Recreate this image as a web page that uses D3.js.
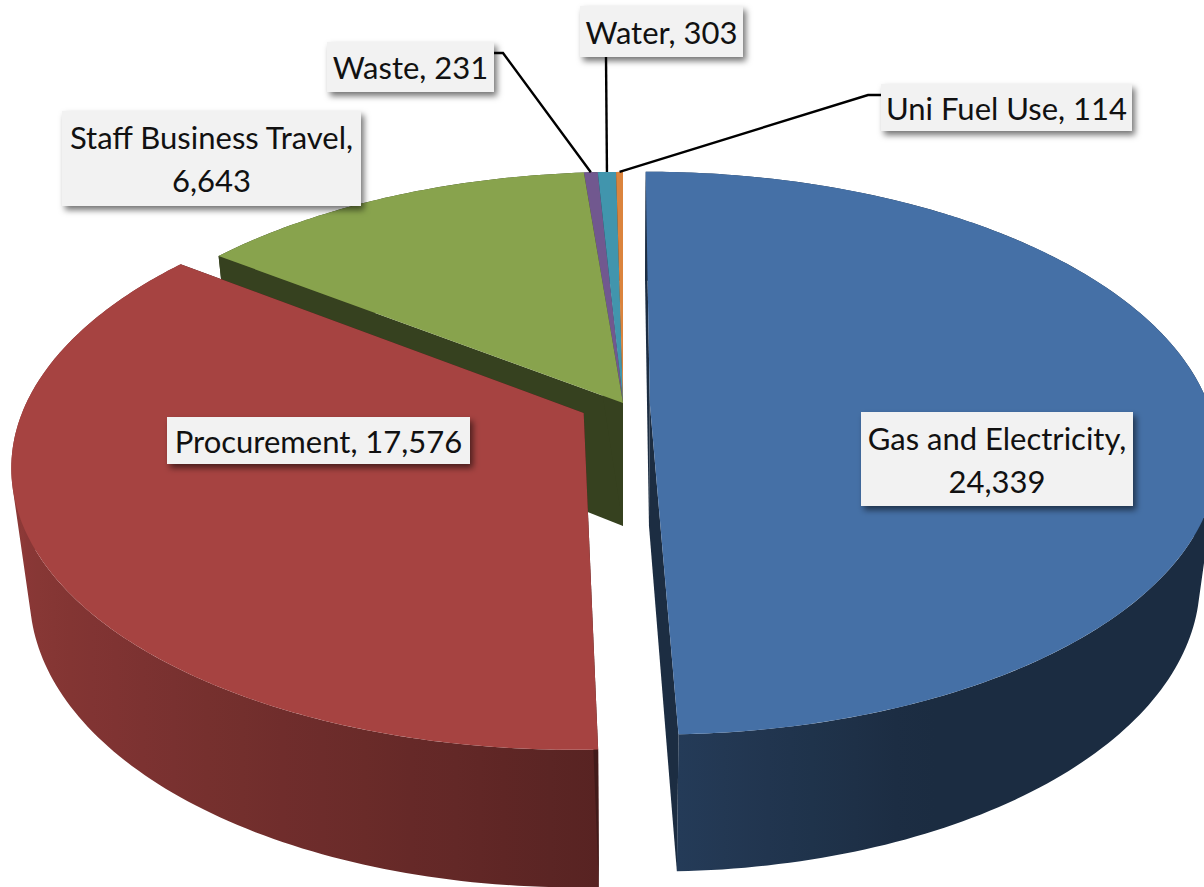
<!DOCTYPE html>
<html>
<head>
<meta charset="utf-8">
<title>Carbon footprint pie</title>
<style>
  html, body { margin: 0; padding: 0; background: #fff; }
  svg { display: block; }
  text { font-family: Lato, "Open Sans", sans-serif; font-size: 31px; fill: #111; }
</style>
</head>
<body>
<svg width="1204" height="887"></svg>
<script src="https://d3js.org/d3.v7.min.js"></script>
<script>
// chart data
const categories = ["Gas and Electricity", "Procurement", "Staff Business Travel", "Waste", "Water", "Uni Fuel Use"];
const values = [24339, 17576, 6643, 231, 303, 114];
const colors = ["#4570a6", "#a64341", "#88a34d", "#71588f", "#4195ad", "#db843d"];

// how far each slice is pulled out of the pie (share of radius)
const explode = [0.048, 0.079, 0, 0, 0, 0];
// label boxes: x, y, w, h, and whether the value goes on a second line
const labelBoxes = [
  { x: 861, y: 412, w: 272, h: 94, wrap: true },
  { x: 167, y: 417, w: 303, h: 47, wrap: false },
  { x: 62, y: 111, w: 299, h: 95, wrap: true },
  { x: 327, y: 42, w: 167, h: 50, wrap: false },
  { x: 580, y: 6, w: 163, h: 51, wrap: false },
  { x: 881, y: 84, w: 251, h: 47, wrap: false }
];
// bend of each leader line, null when there is none
const leaders = [null, null, null,
  { from: [494, 53], bend: [503, 53] },
  { from: [606, 57], bend: null },
  { from: [881, 95], bend: [868, 95] }
];

// perspective of the pie
const cx = 623, cy = 403;
const radiusX = 558, radiusY = 272.5, persp = 0.179;
const depth = 123, depthGrow = 0.114, bottomScale = 0.97;

const svg = d3.select("svg");
const defs = svg.append("defs");

const fmt = d3.format(",");
const slices = d3.pie().sort(null)(values);
const line = d3.line();

// lighting of the side walls, by left-right position round the pie
const shade = d3.scaleLinear().domain([-1, 0, 0.4, 1]).range([0.85, 0.54, 0.39, 0.39]);
const faceShade = 0.4;

function darker(c, k) {
  const r = d3.rgb(c);
  return d3.rgb(r.r * k, r.g * k, r.b * k).formatHex();
}

// angle (radians, clockwise from top), r 0..1, slice index, on the bottom plane or not
function project(angle, r, i, bottom) {
  const mid = (slices[i].startAngle + slices[i].endAngle) / 2;
  const gx = r * Math.sin(angle) + explode[i] * Math.sin(mid);
  const gy = -r * Math.cos(angle) - explode[i] * Math.cos(mid);
  const w = 1 - persp * gy;
  let x = cx + radiusX * gx / w;
  let y = cy + radiusY * gy / w;
  if (bottom) {
    x = cx + (x - cx) * bottomScale;
    y = y + depth * (1 + depthGrow * gy);
  }
  return [x, y];
}

function arcAngles(a0, a1, stepDeg) {
  const n = Math.max(1, Math.ceil((a1 - a0) / (stepDeg * Math.PI / 180)));
  return d3.range(n + 1).map(k => a0 + (a1 - a0) * k / n);
}

// horizontal gradient for the part of the wall facing the viewer
function wallFill(i) {
  const s = slices[i];
  const a0 = Math.max(s.startAngle, Math.PI / 2), a1 = Math.min(s.endAngle, Math.PI * 1.5);
  if (a1 <= a0) return darker(colors[i], faceShade);
  const angles = arcAngles(a0, a1, 4);
  const xs = angles.map(a => project(a, 1, i)[0]);
  const [x0, x1] = d3.extent(xs);
  const offset = d3.scaleLinear().domain([x0, x1]).range([0, 1]);
  const stops = angles.map((a, k) => ({ o: offset(xs[k]), c: darker(colors[i], shade(Math.sin(a))) }))
    .sort((p, q) => p.o - q.o);
  const grad = defs.append("linearGradient")
    .attr("id", "wall" + i)
    .attr("gradientUnits", "userSpaceOnUse")
    .attr("x1", x0).attr("x2", x1).attr("y1", 0).attr("y2", 0);
  grad.selectAll("stop").data(stops).join("stop")
    .attr("offset", d => d.o)
    .attr("stop-color", d => d.c);
  return "url(#wall" + i + ")";
}

function drawSides(i) {
  const s = slices[i];
  // wall as quads all wound the same way, otherwise the fill cancels at the silhouette
  const rim = arcAngles(s.startAngle, s.endAngle, 1);
  const quads = d3.pairs(rim).map(([a, b]) => {
    const q = [project(a, 1, i), project(b, 1, i), project(b, 1, i, true), project(a, 1, i, true)];
    if (d3.polygonArea(q) < 0) q.reverse();
    return line(q) + "Z";
  });
  pie.append("path")
    .attr("d", quads.join(""))
    .attr("fill", wallFill(i));
  // the two cut faces
  [s.startAngle, s.endAngle].forEach(a => {
    pie.append("path")
      .attr("d", line([project(0, 0, i), project(a, 1, i), project(a, 1, i, true), project(0, 0, i, true)]) + "Z")
      .attr("fill", darker(colors[i], faceShade));
  });
}

function drawTop(i) {
  const s = slices[i];
  const rim = arcAngles(s.startAngle, s.endAngle, 0.5).map(a => project(a, 1, i));
  pie.append("path")
    .attr("d", line([project(0, 0, i)].concat(rim)) + "Z")
    .attr("fill", colors[i]);
}

const pie = svg.append("g");
// slices that stay together are painted as one group, pulled out ones come after
[[3, 4, 5, 2], [1], [0]].forEach(group => {
  group.forEach(drawSides);
  group.forEach(drawTop);
});

// label shadow
const filter = defs.append("filter")
  .attr("id", "boxShadow")
  .attr("x", "-10%").attr("y", "-20%").attr("width", "125%").attr("height", "150%");
filter.append("feDropShadow")
  .attr("dx", 3).attr("dy", 4).attr("stdDeviation", 3)
  .attr("flood-color", "#000").attr("flood-opacity", 0.55);

// leader lines
leaders.forEach((l, i) => {
  if (!l) return;
  const mid = (slices[i].startAngle + slices[i].endAngle) / 2;
  const pts = [l.from];
  if (l.bend) pts.push(l.bend);
  pts.push(project(mid, 1, i));
  svg.append("path")
    .attr("d", line(pts))
    .attr("fill", "none")
    .attr("stroke", "#000")
    .attr("stroke-width", 2.4);
});

// labels
categories.forEach((name, i) => {
  const b = labelBoxes[i];
  const g = svg.append("g");
  g.append("rect")
    .attr("x", b.x).attr("y", b.y).attr("width", b.w).attr("height", b.h)
    .attr("fill", "#f2f2f2")
    .attr("filter", "url(#boxShadow)");
  const lines = b.wrap ? [name + ",", fmt(values[i])] : [name + ", " + fmt(values[i])];
  const lineH = 43;
  const firstY = b.y + b.h / 2 - (lines.length - 1) * lineH / 2;
  lines.forEach((t, k) => {
    g.append("text")
      .attr("x", b.x + b.w / 2)
      .attr("y", firstY + k * lineH)
      .attr("dy", "0.39em")
      .attr("text-anchor", "middle")
      .text(t);
  });
});
</script>
</body>
</html>
